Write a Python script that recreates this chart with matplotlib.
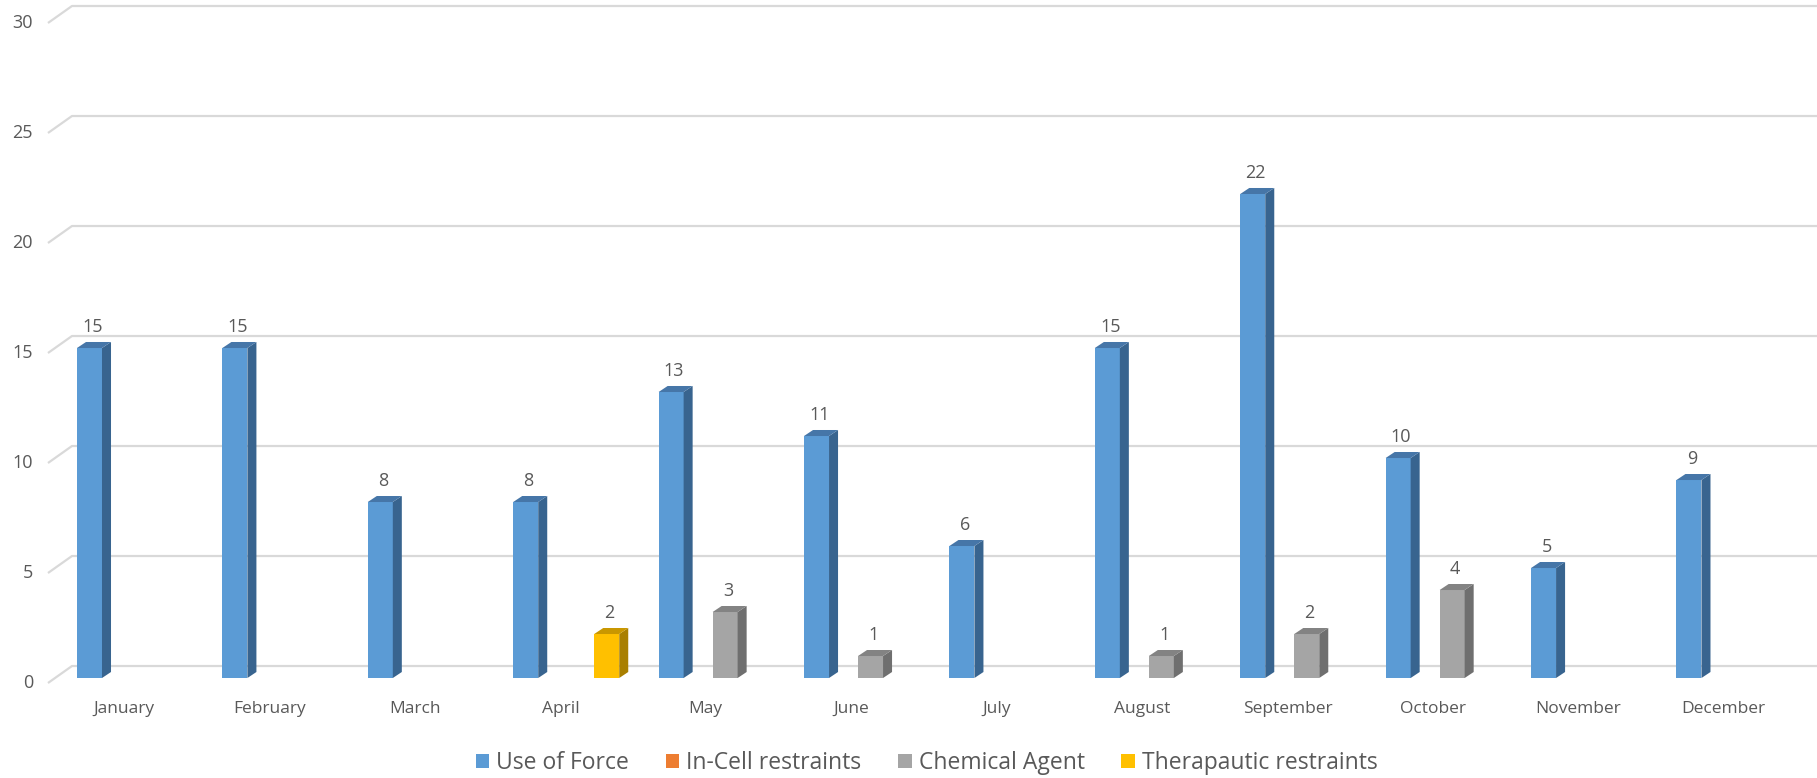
import matplotlib.pyplot as plt
from matplotlib.patches import Polygon, Patch

months = ['January', 'February', 'March', 'April', 'May', 'June', 'July',
          'August', 'September', 'October', 'November', 'December']
series_names = ['Use of Force', 'In-Cell restraints', 'Chemical Agent', 'Therapautic restraints']
use_of_force = [15, 15, 8, 8, 13, 11, 6, 15, 22, 10, 5, 9]
in_cell = [0, 0, 0, 0, 0, 0, 0, 0, 0, 0, 0, 0]
chemical = [0, 0, 0, 0, 3, 1, 0, 1, 2, 4, 0, 0]
therapeutic = [0, 0, 0, 2, 0, 0, 0, 0, 0, 0, 0, 0]
y_ticks = [0, 5, 10, 15, 20, 25, 30]

# front / top / side colours for the fake 3d columns
face = ['#5B9BD5', '#ED7D31', '#A5A5A5', '#FFC000']
top = ['#4676A8', '#B85F22', '#838383', '#C99700']
side = ['#38648F', '#A4541D', '#6F6F6F', '#A97F00']

plt.rcParams['font.family'] = ['Open Sans', 'DejaVu Sans']
txt = '#595959'

fig = plt.figure(figsize=(18.17, 7.78), dpi=100)
ax = fig.add_axes([0, 0, 1, 1])
ax.set_xlim(-0.894, 11.602)
ax.set_ylim(-4.545, 30.818)
ax.axis('off')

slot = 0.1857     # spacing of series inside a cluster
bw = 0.172        # bar width
ddx, ddy = 0.062, 0.273   # bar depth
# floor / wall geometry
fx, fy = -0.564, -0.227
bx, by = -0.399, 0.545

for v in y_ticks:
    ax.plot([fx, bx, 11.602], [v + fy, v + by, v + by], color='#D9D9D9', lw=1.6,
            solid_capstyle='butt', zorder=1)
    ax.text(-0.667, v + fy, str(v), ha='right', va='center', fontsize=13, color=txt)

for i, m in enumerate(months):
    ax.text(i - 0.04, -1.41, m, ha='center', va='center', fontsize=12.5, color=txt)

all_series = [use_of_force, in_cell, chemical, therapeutic]
for i in range(len(months)):
    for s, vals in enumerate(all_series):
        v = vals[i]
        if v == 0:
            continue
        x0 = i + (s - 1.5) * slot - bw / 2
        x1 = x0 + bw
        ax.bar(x0, v, width=bw, align='edge', color=face[s], zorder=3)
        ax.add_patch(Polygon([(x1, 0), (x1 + ddx, ddy), (x1 + ddx, v + ddy), (x1, v)],
                             closed=True, facecolor=side[s], edgecolor='none', zorder=3))
        ax.add_patch(Polygon([(x0, v), (x1, v), (x1 + ddx, v + ddy), (x0 + ddx, v + ddy)],
                             closed=True, facecolor=top[s], edgecolor='none', zorder=3))
        ax.text(x0 + bw / 2 + 0.02, v + 0.95, str(v), ha='center', va='center',
                fontsize=13, color=txt, zorder=4)

handles = [Patch(facecolor=c, edgecolor='none') for c in face]
fig.legend(handles, series_names, loc='center', bbox_to_anchor=(0.51, 0.019), ncol=4,
           frameon=False, fontsize=16.5, handlelength=0.6, handleheight=0.6,
           handletextpad=0.3, columnspacing=1.6, labelcolor=txt)

fig.savefig('out.png', dpi=100)
